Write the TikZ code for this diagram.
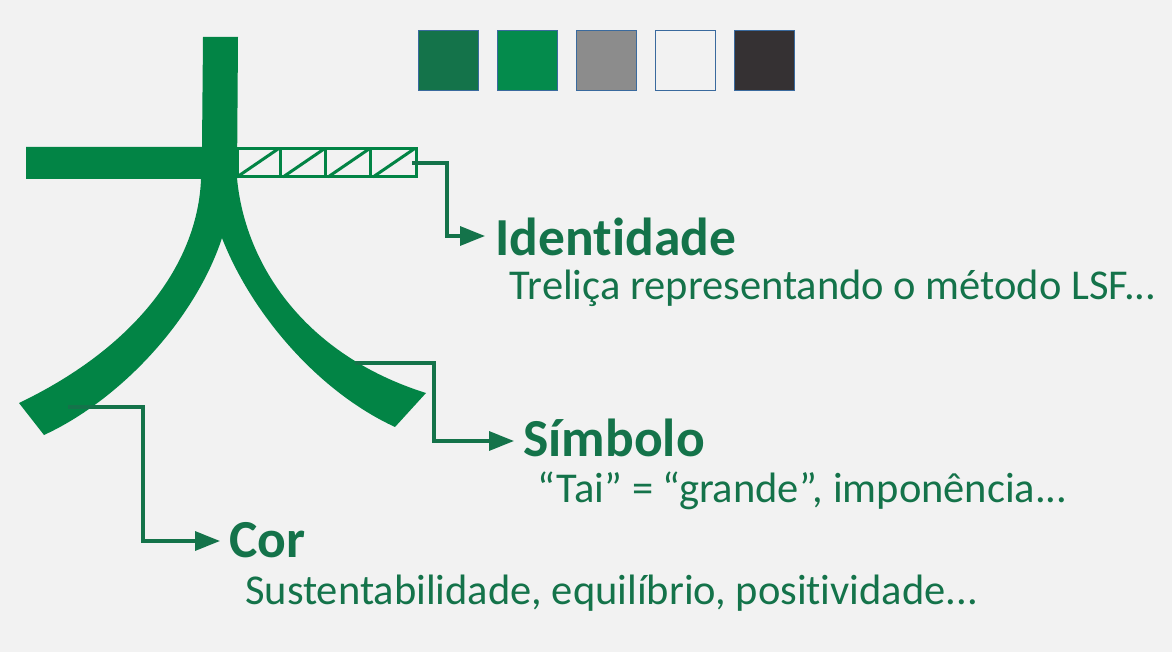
\documentclass[tikz,border=0pt]{standalone}
\usepackage{fontspec}
\setmainfont{Carlito}[Ligatures=NoCommon]
\definecolor{pagebg}{RGB}{242, 242, 242}
\definecolor{greendark}{RGB}{20, 115, 74}
\definecolor{greenlogo}{RGB}{2, 132, 69}
\definecolor{greenswatch}{RGB}{4, 139, 76}
\definecolor{greyswatch}{RGB}{140, 140, 140}
\definecolor{blackswatch}{RGB}{53, 49, 51}
\definecolor{swatchedge}{RGB}{58, 106, 158}
\usetikzlibrary{arrows.meta}
\newcommand{\trailingdots}{.\kern0pt.\kern0pt.}

\begin{document}
\begin{tikzpicture}[
    x=1pt, y=-1pt,
    swatch/.style={rectangle, draw=swatchedge, line width=1.2pt, minimum size=60pt, inner sep=0pt},
    heading/.style={anchor=west, inner sep=0pt, outer sep=0pt, text=greendark, font=\bfseries\fontsize{53.5}{53.5}\selectfont, text height=32pt, text depth=0pt},
    detail/.style={anchor=base west, inner sep=0pt, text=greendark, font=\fontsize{42.5}{42.5}\selectfont},
    truss/.style={draw=greenlogo, line width=3pt},
    leader/.style={draw=greendark, line width=3.3pt, -{Triangle[length=25pt,width=19pt]}}
]
    \useasboundingbox[fill=pagebg] (0,0) rectangle (1172,652);

    % colour swatches
    \node[swatch, fill=greendark] (C1) at (448.5,60.5) {};
    \node[swatch, fill=greenswatch] (C2) at (527.5,60.5) {};
    \node[swatch, fill=greyswatch] (C3) at (606.5,60.5) {};
    \node[swatch, fill=pagebg] (C4) at (685.5,60.5) {};
    \node[swatch, fill=blackswatch] (C5) at (764.5,60.5) {};

    % logo strokes
    \fill[greenlogo] (203,37) -- (238,37) -- (237,178)
        .. controls (245,265) and (305,355) .. (426,393) -- (395,427)
        .. controls (315,390) and (250,310) .. (222,238)
        .. controls (195,320) and (120,400) .. (44,435) -- (19,403)
        .. controls (140,345) and (198,260) .. (201,179) -- (26,179) -- (26,147) -- (202,147) -- cycle;

    % lattice
    \draw[truss] (237,149) rectangle (416,177);
    \foreach \x in {237, 283, 328, 373} {
        \draw[truss] (\x,177) -- (\x+41,149);
    }
    \foreach \x in {280, 325, 370} {
        \draw[truss] (\x,149) -- (\x,177);
    }

    % labels
    \node[heading] (Identidade) at (495.5,239.5) {Identidade};
    \node[detail] (IdentidadeText) at (509.5,299.5) {Treliça representando o método LSF\trailingdots};
    \node[heading] (Simbolo) at (523.5,440.5) {Símbolo};
    \node[detail] (SimboloText) at (537,502.5) {“Tai” = “grande”, imponência\trailingdots};
    \node[heading] (Cor) at (229.5,541) {Cor};
    \node[detail] (CorText) at (245,604) {Sustentabilidade, equilíbrio, positividade\trailingdots};

    % leaders
    \coordinate (IdentidadeStart) at (412,163);
    \coordinate (IdentidadeEnd) at (485,236);
    \coordinate (SimboloStart) at (355,363);
    \coordinate (SimboloEnd) at (514,441);
    \coordinate (CorStart) at (68,407);
    \coordinate (CorEnd) at (220,541);
    \draw[leader] (IdentidadeStart) -- (447,163) |- (IdentidadeEnd);
    \draw[leader] (SimboloStart) -- (434,363) |- (SimboloEnd);
    \draw[leader] (CorStart) -- (143,407) |- (CorEnd);
\end{tikzpicture}
\end{document}
